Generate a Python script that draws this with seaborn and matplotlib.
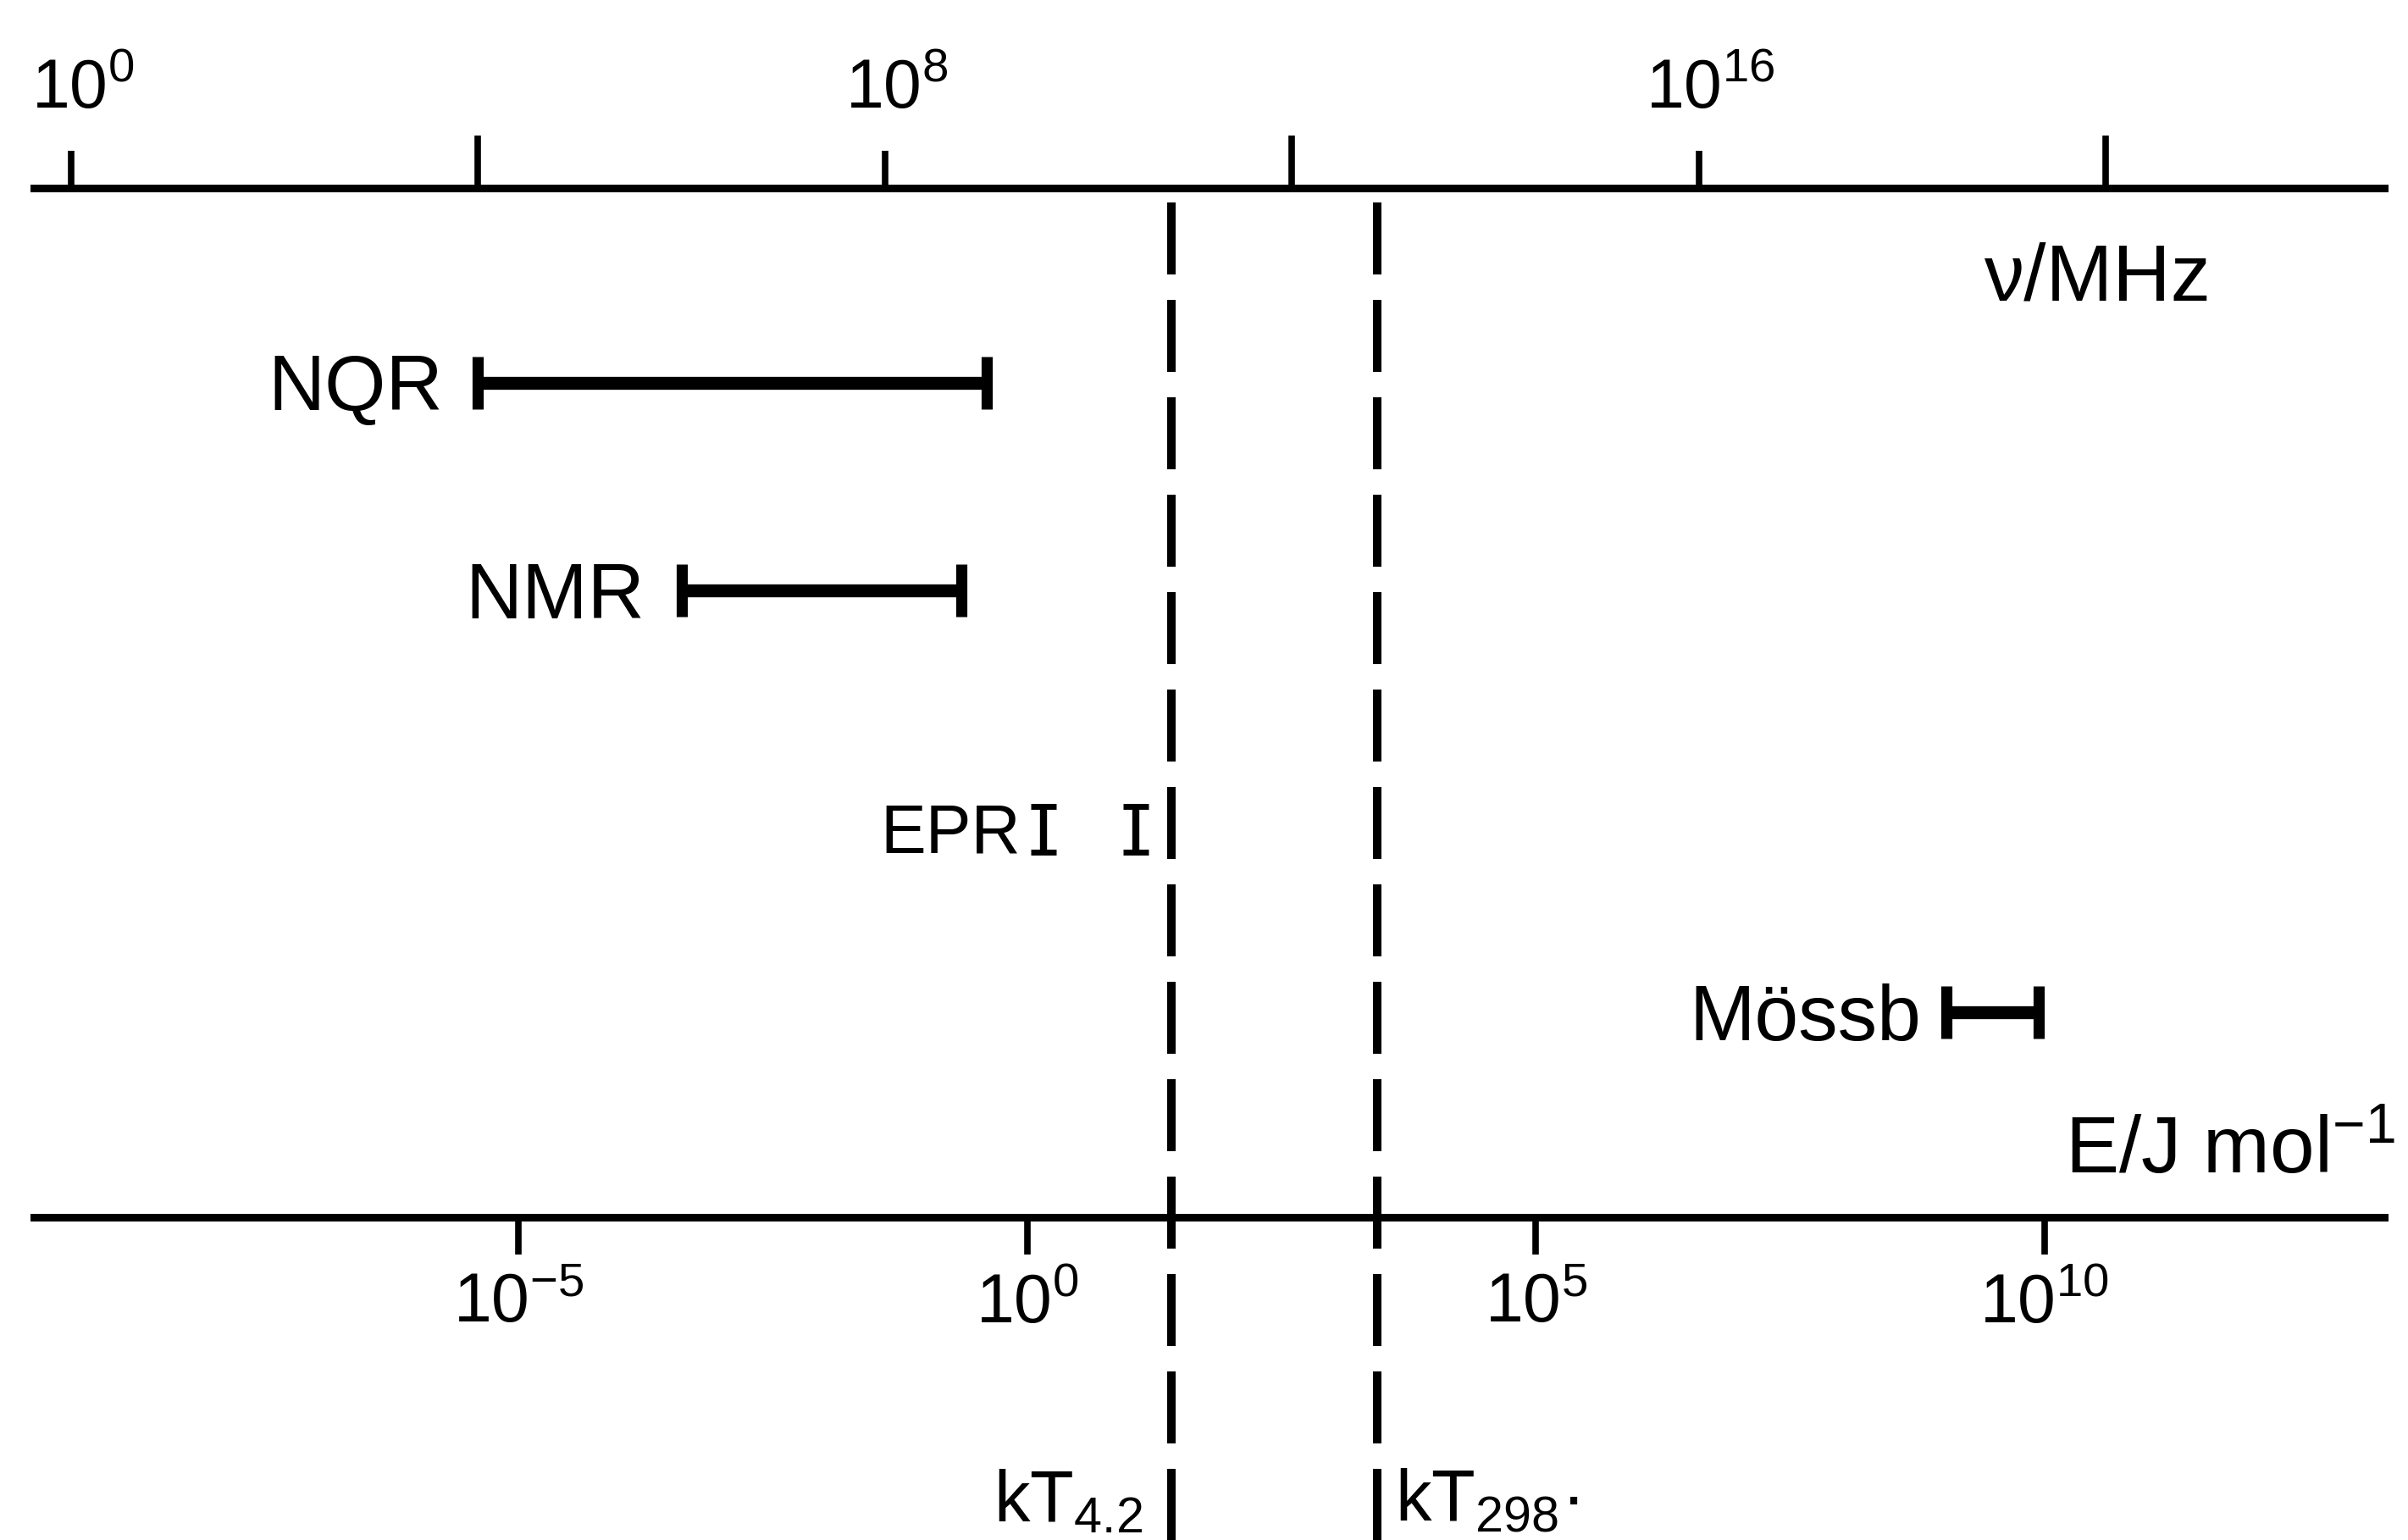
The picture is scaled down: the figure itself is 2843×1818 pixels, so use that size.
import numpy as np
import matplotlib
matplotlib.use("Agg")
import matplotlib.pyplot as plt
import matplotlib.transforms as mtransforms
import seaborn as sns
from matplotlib.ticker import FixedLocator, FixedFormatter, NullFormatter, NullLocator

# ---------------- data ----------------
techniques = ["NQR", "NMR", "Mössb"]
range_low_mhz = [1.0e4, 1.0e6, 2.7e18]
range_high_mhz = [1.0e9, 5.6e8, 2.2e19]
epr_label = "EPR"
epr_marks_mhz = [3.6e9, 2.9e10]
kt_labels = [r"kT$_{4.2}$", r"kT$_{298}$·"]
kt_energy_jmol = [26.0, 2750.0]
nu_major_ticks = [1e0, 1e8, 1e16]
nu_major_labels = ["$10^{0}$", "$10^{8}$", "$10^{16}$"]
nu_minor_ticks = [1e4, 1e12, 1e20]
e_ticks = [1e-5, 1e0, 1e5, 1e10]
e_tick_labels = ["$10^{-5}$", "$10^{0}$", "$10^{5}$", "$10^{10}$"]
nu_axis_label = "ν/MHz"
e_axis_label = r"E/J mol$^{-1}$"
HNA = 3.99e-10  # h * N_A (J s mol^-1)

# ---------------- layout ----------------
row_y = {"NQR": 0.811, "NMR": 0.609, "EPR": 0.377, "Mössb": 0.199}
label_dx = {"NQR": -30, "NMR": -31, "EPR": -19, "Mössb": -21}

sns.set_theme(style="white")
plt.rcParams.update({
    "font.family": ["Liberation Sans", "DejaVu Sans"],
    "mathtext.fontset": "custom",
    "mathtext.rm": "Liberation Sans",
    "mathtext.it": "Liberation Sans:italic",
    "mathtext.bf": "Liberation Sans:bold",
    "mathtext.sf": "Liberation Sans",
    "mathtext.default": "regular",
    "text.color": "black",
    "axes.edgecolor": "black",
    "xtick.color": "black",
})

fig = plt.figure(figsize=(28.43, 18.18), dpi=100)
ax = fig.add_axes([0.01407, 0.2096, 0.9761, 0.6683])
ax.set_xscale("log")
ax.set_xlim(10 ** -0.366, 10 ** 22.74)
ax.set_ylim(0, 1)
ax.set_yticks([])
for s in ["left", "right", "bottom"]:
    ax.spines[s].set_visible(False)
ax.spines["top"].set_linewidth(6.5)

# top frequency axis
ax.xaxis.set_ticks_position("top")
ax.xaxis.set_major_locator(FixedLocator(nu_major_ticks))
ax.xaxis.set_major_formatter(FixedFormatter(nu_major_labels))
ax.xaxis.set_minor_locator(FixedLocator(nu_minor_ticks))
ax.xaxis.set_minor_formatter(NullFormatter())
ax.tick_params(axis="x", which="major", direction="out", length=32, width=5.5,
               pad=24, labelsize=58, top=True, bottom=False,
               labeltop=True, labelbottom=False)
ax.tick_params(axis="x", which="minor", direction="out", length=45, width=5.5,
               top=True, bottom=False)

# bottom energy axis
sec = ax.secondary_xaxis("bottom", functions=(lambda nu: nu * HNA, lambda e: e / HNA))
sec.xaxis.set_major_locator(FixedLocator(e_ticks))
sec.xaxis.set_major_formatter(FixedFormatter(e_tick_labels))
sec.xaxis.set_minor_locator(NullLocator())
sec.spines["bottom"].set_linewidth(6.5)
sec.tick_params(axis="x", which="major", direction="out", length=32, width=5.5,
                pad=15, labelsize=58)

# range bars
for name, lo, hi in zip(techniques, range_low_mhz, range_high_mhz):
    c = np.sqrt(lo * hi)
    ax.errorbar([c], [row_y[name]], xerr=[[c - lo], [hi - c]], fmt="none",
                ecolor="black", elinewidth=11, capsize=22, capthick=9.5)
    ax.annotate(name, xy=(lo, row_y[name]), xytext=(label_dx[name], -23.5),
                textcoords="offset points", ha="right", va="baseline", fontsize=67)

# EPR marks
ax.errorbar(epr_marks_mhz, [row_y["EPR"]] * len(epr_marks_mhz), yerr=0.022, fmt="none",
            ecolor="black", elinewidth=6, capsize=10.5, capthick=5)
ax.annotate(epr_label, xy=(epr_marks_mhz[0], row_y["EPR"]), xytext=(label_dx["EPR"], -20),
            textcoords="offset points", ha="right", va="baseline", fontsize=58)

# kT dashed lines
for lab, e, side in zip(kt_labels, kt_energy_jmol, ["right", "left"]):
    nu = e / HNA
    ax.axvline(nu, ymin=-0.315, ymax=1.0, color="black", lw=7.2,
               dashes=(8.5, 3.0), clip_on=False)
    ax.annotate(lab, xy=(nu, -0.295), xycoords=ax.get_xaxis_transform(),
                xytext=(-24 if side == "right" else 15, 0), textcoords="offset points",
                ha=side, va="baseline", fontsize=61, annotation_clip=False)

# axis titles
ax.text(0.830, 0.891, nu_axis_label, transform=ax.transAxes, ha="left",
        va="baseline", fontsize=68)
ax.text(0.864, 0.0428, e_axis_label, transform=ax.transAxes, ha="left",
        va="baseline", fontsize=68)

# centre the "10" of the top labels over their ticks (exponent hangs to the right)
fig.canvas.draw()
shift = mtransforms.ScaledTranslation(10 / 72, 0, fig.dpi_scale_trans)
for tick in ax.xaxis.get_major_ticks():
    tick.label2.set_transform(tick.label2.get_transform() + shift)

fig.savefig("out.png", dpi=100, facecolor="white")
